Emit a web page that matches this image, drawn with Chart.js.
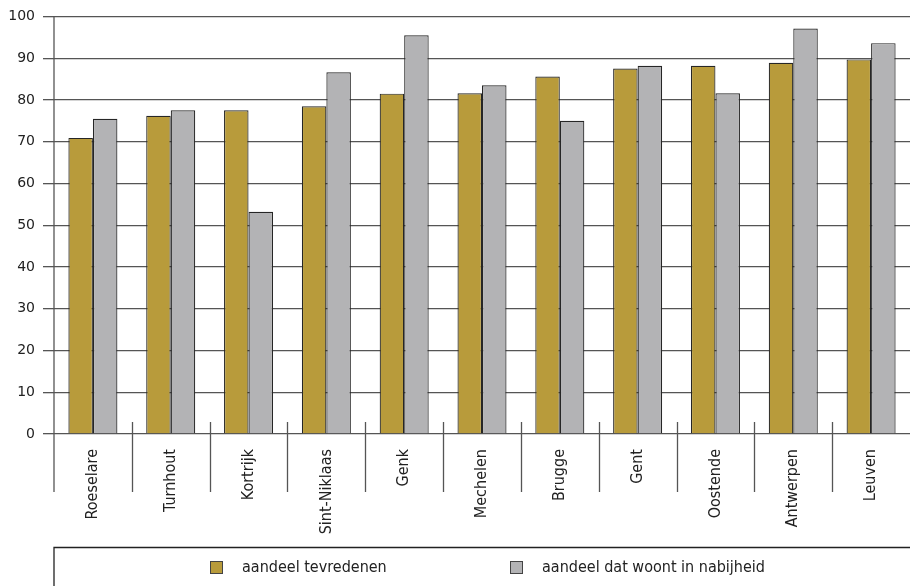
<!DOCTYPE html>
<html>
<head>
<meta charset="utf-8">
<script src="https://cdn.jsdelivr.net/npm/chart.js@4"></script>
<style>
  html, body { margin: 0; padding: 0; background: #fff; }
  #wrap { width: 910px; height: 586px; position: relative; }
</style>
</head>
<body>
<div id="wrap"><canvas id="chart"></canvas></div>
<script>
// data
const cities = ["Roeselare", "Turnhout", "Kortrijk", "Sint-Niklaas", "Genk", "Mechelen",
  "Brugge", "Gent", "Oostende", "Antwerpen", "Leuven"];
const tevreden = [70.9, 76.2, 77.5, 78.5, 81.5, 81.6, 85.6, 87.5, 88.2, 88.9, 89.7];
const nabij = [75.5, 77.5, 53.2, 86.6, 95.5, 83.5, 75.0, 88.2, 81.6, 97.1, 93.6];
const seriesNames = ["aandeel tevredenen", "aandeel dat woont in nabijheid"];
const yTicks = [0, 10, 20, 30, 40, 50, 60, 70, 80, 90, 100];

const GOLD = "#b89b3b";
const GREY = "#b3b3b5";
const LABEL_FONT = "'DejaVu Sans Condensed', 'DejaVu Sans', sans-serif";

// axis line, category separators and the legend strip under the chart
const frame = {
  id: "frame",
  afterDatasetsDraw(chart) {
    const { ctx, chartArea: a, scales: { x } } = chart;
    ctx.save();
    ctx.strokeStyle = "#555";
    ctx.lineWidth = 1.3;

    ctx.beginPath();
    ctx.moveTo(a.left, a.top);
    ctx.lineTo(a.left, 492);
    ctx.stroke();

    const n = cities.length;
    for (let i = 0; i < n - 1; i++) {
      const sx = Math.round((x.getPixelForValue(i) + x.getPixelForValue(i + 1)) / 2) + 0.5;
      ctx.beginPath();
      ctx.moveTo(sx, a.bottom - 12);
      ctx.lineTo(sx, 492);
      ctx.stroke();
    }

    // legend box
    ctx.strokeStyle = "#222";
    ctx.lineWidth = 1.3;
    ctx.beginPath();
    ctx.moveTo(a.left, 586);
    ctx.lineTo(a.left, 547.5);
    ctx.lineTo(910, 547.5);
    ctx.stroke();

    const items = [
      { x: 210, text: seriesNames[0], color: GOLD },
      { x: 510, text: seriesNames[1], color: GREY },
    ];
    ctx.font = "16px " + LABEL_FONT;
    ctx.textBaseline = "middle";
    ctx.textAlign = "left";
    items.forEach((it) => {
      ctx.fillStyle = it.color;
      ctx.fillRect(it.x, 561, 13, 13);
      ctx.strokeStyle = "#444";
      ctx.lineWidth = 1;
      ctx.strokeRect(it.x + 0.5, 561.5, 12, 12);
      ctx.fillStyle = "#222";
      ctx.fillText(it.text, it.x + 32, 568);
    });
    ctx.restore();
  },
};

new Chart(document.getElementById("chart"), {
  type: "bar",
  data: {
    labels: cities,
    datasets: [
      {
        label: seriesNames[0],
        data: tevreden,
        backgroundColor: GOLD,
        borderColor: "#262626",
        borderWidth: 1.2,
      },
      {
        label: seriesNames[1],
        data: nabij,
        backgroundColor: GREY,
        borderColor: "#262626",
        borderWidth: 1.2,
      },
    ],
  },
  options: {
    responsive: true,
    maintainAspectRatio: false,
    animation: false,
    layout: { padding: { top: 15, right: 0, left: 0, bottom: 0 } },
    datasets: { bar: { categoryPercentage: 0.63, barPercentage: 1.0 } },
    plugins: {
      legend: { display: false },
      tooltip: { enabled: false },
    },
    scales: {
      x: {
        grid: { display: false },
        border: { display: false },
        ticks: {
          color: "#222",
          font: { family: LABEL_FONT, size: 16 },
          maxRotation: 90,
          minRotation: 90,
          padding: 7,
          autoSkip: false,
        },
        afterFit: (s) => { s.height = 152; },
      },
      y: {
        min: 0,
        max: 100,
        afterBuildTicks: (s) => { s.ticks = yTicks.map((v) => ({ value: v })); },
        grid: { color: "#555", lineWidth: 1.3, tickLength: 11 },
        border: { display: false },
        ticks: {
          color: "#222",
          font: { family: "'DejaVu Sans', sans-serif", size: 14 },
          padding: 8,
        },
        afterFit: (s) => { s.width = 54; },
      },
    },
  },
  plugins: [frame],
});
</script>
</body>
</html>
